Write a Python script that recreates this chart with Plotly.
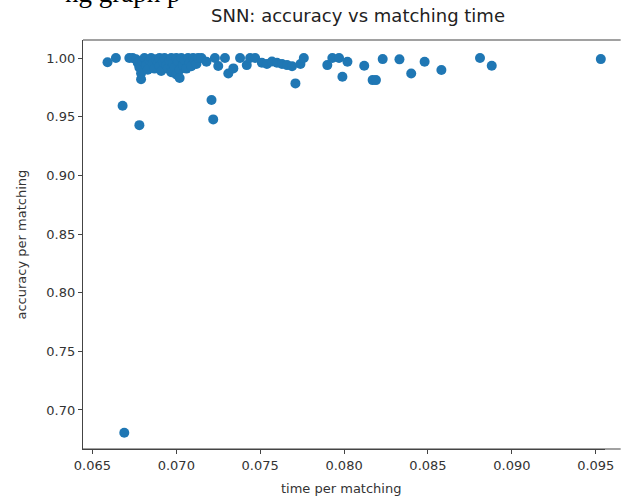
import plotly.graph_objects as go

time_per_matching = [
    0.0659, 0.0664, 0.0668, 0.0669, 0.0678,
    0.0672, 0.0674, 0.0676, 0.0677, 0.0678, 0.0679, 0.0679, 0.0680, 0.0681, 0.0682,
    0.0683, 0.0684, 0.0685, 0.0686, 0.0687, 0.0688, 0.0689, 0.0690, 0.0690, 0.0691,
    0.0692, 0.0693, 0.0694, 0.0695, 0.0696, 0.0697, 0.0697, 0.0698, 0.0699, 0.0700,
    0.0700, 0.0701, 0.0702, 0.0702, 0.0703, 0.0704, 0.0705, 0.0706, 0.0707, 0.0708,
    0.0709, 0.0710, 0.0711, 0.0712, 0.0713, 0.0715, 0.0718, 0.0721, 0.0722, 0.0723,
    0.0725, 0.0729, 0.0731, 0.0734, 0.0738, 0.0742, 0.0744, 0.0747, 0.0751, 0.0754,
    0.0757, 0.0760, 0.0763, 0.0766, 0.0769, 0.0771, 0.0774, 0.0776, 0.0790, 0.0793,
    0.0797, 0.0799, 0.0802, 0.0812, 0.0817, 0.0819, 0.0823, 0.0833, 0.0840, 0.0848,
    0.0858, 0.0881, 0.0888, 0.0953,
]
accuracy_per_matching = [
    0.9965, 1.0000, 0.9593, 0.6805, 0.9428,
    1.0000, 1.0000, 0.9990, 0.9960, 0.9920, 0.9820, 0.9870, 0.9970, 1.0000, 0.9940,
    0.9900, 0.9980, 1.0000, 0.9950, 0.9910, 0.9990, 0.9960, 1.0000, 0.9930, 0.9890,
    0.9970, 1.0000, 0.9940, 0.9910, 0.9980, 1.0000, 0.9880, 0.9950, 0.9920, 1.0000,
    0.9860, 0.9970, 0.9900, 0.9830, 1.0000, 0.9940, 0.9980, 0.9910, 1.0000, 0.9960,
    0.9930, 1.0000, 0.9980, 0.9950, 1.0000, 1.0000, 0.9968, 0.9642, 0.9477, 1.0000,
    0.9932, 1.0000, 0.9869, 0.9912, 1.0000, 0.9940, 1.0000, 1.0000, 0.9960, 0.9950,
    0.9970, 0.9960, 0.9950, 0.9940, 0.9930, 0.9784, 0.9950, 1.0000, 0.9940, 1.0000,
    1.0000, 0.9840, 0.9968, 0.9934, 0.9812, 0.9812, 0.9991, 0.9989, 0.9869, 0.9968,
    0.9898, 1.0000, 0.9934, 0.9991,
]
x_ticks = [0.065, 0.070, 0.075, 0.080, 0.085, 0.090, 0.095]
y_ticks = [0.70, 0.75, 0.80, 0.85, 0.90, 0.95, 1.00]

title_text = "SNN: accuracy vs matching time"
x_label = "time per matching"
y_label = "accuracy per matching"
clipped_heading = "ng graph p"

FONT = "DejaVu Sans"
AXIS_COLOR = "#444444"
TEXT_COLOR = "#333333"

fig = go.Figure(
    go.Scatter(
        x=time_per_matching,
        y=accuracy_per_matching,
        mode="markers",
        marker=dict(color="#1f77b4", size=10, line=dict(width=0)),
        hoverinfo="x+y",
        cliponaxis=False,
    )
)

axis_common = dict(
    showgrid=False,
    zeroline=False,
    showline=True,
    linecolor=AXIS_COLOR,
    linewidth=1.2,
    ticks="outside",
    ticklen=4,
    tickwidth=1,
    tickcolor=AXIS_COLOR,
    tickfont=dict(family=FONT, size=13, color=TEXT_COLOR),
    ticklabeloverflow="allow",
)

# plot area: x 83..614 px, y 40..449 px; axes continue to the page edge
fig.update_layout(
    width=622,
    height=497,
    margin=dict(l=83, r=8, t=40, b=48),
    paper_bgcolor="white",
    plot_bgcolor="white",
    showlegend=False,
    xaxis=dict(
        range=[0.06444, 0.09555],
        tickvals=x_ticks,
        ticktext=[f"{v:.3f}" for v in x_ticks],
        mirror=False,
        **axis_common,
    ),
    yaxis=dict(
        range=[0.6667, 1.0154],
        tickvals=y_ticks,
        ticktext=[f"{v:.2f}" for v in y_ticks],
        mirror=False,
        **axis_common,
    ),
    shapes=[
        dict(type="line", xref="paper", yref="paper", x0=0, x1=1.03, y0=1, y1=1,
             line=dict(color=AXIS_COLOR, width=1.2)),
        dict(type="line", xref="paper", yref="paper", x0=0, x1=1.03, y0=0, y1=0,
             line=dict(color=AXIS_COLOR, width=1.2)),
    ],
    annotations=[
        dict(text=title_text, xref="paper", yref="paper", x=0.527, y=1.0, yshift=25,
             xanchor="center", yanchor="middle", showarrow=False,
             font=dict(family=FONT, size=18, color="#222222")),
        dict(text=x_label, xref="paper", yref="paper", x=0.494, y=0, yshift=-39,
             xanchor="center", yanchor="middle", showarrow=False,
             font=dict(family=FONT, size=13, color=TEXT_COLOR)),
        dict(text=y_label, xref="paper", yref="paper", x=0, xshift=-62, y=0.5,
             xanchor="center", yanchor="middle", textangle=-90, showarrow=False,
             font=dict(family=FONT, size=13, color=TEXT_COLOR)),
        dict(text=clipped_heading, xref="paper", yref="paper", x=0, xshift=-20, y=1.0,
             yshift=30, xanchor="left", yanchor="bottom", showarrow=False,
             font=dict(family="Liberation Serif", size=27, color="black")),
    ],
)

fig.write_html("out.html")
